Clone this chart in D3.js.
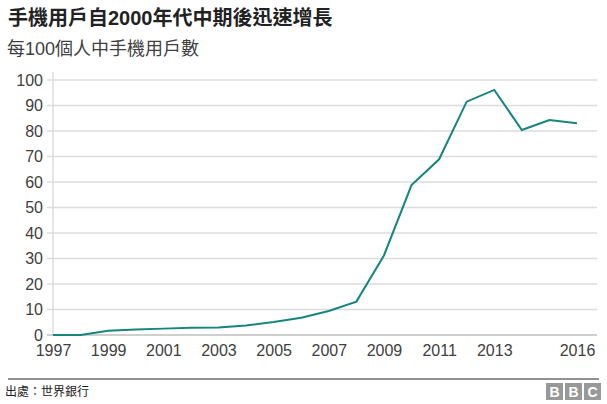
<!DOCTYPE html>
<html><head><meta charset="utf-8">
<script src="https://cdn.jsdelivr.net/npm/d3@7"></script>
<style>body{margin:0;background:#fff;font-family:"Liberation Sans",Arial,"Noto Sans CJK TC",sans-serif;}</style>
</head><body><svg id="c" width="607" height="404"></svg>
<script>
const years = [1997,1998,1999,2000,2001,2002,2003,2004,2005,2006,2007,2008,2009,2010,2011,2012,2013,2014,2015,2016];
const values = [0,0,1.7,2.2,2.5,2.8,2.9,3.7,5.1,6.8,9.4,13.1,31.2,58.8,68.9,91.5,96.1,80.4,84.3,83.0];
const yTicks = [0,10,20,30,40,50,60,70,80,90,100];
const xTicks = [1997,1999,2001,2003,2005,2007,2009,2011,2013,2016];
const title = "手機用戶自2000年代中期後迅速增長";
const subtitle = "每100個人中手機用戶數";
const source = "出處：世界銀行";

const svg = d3.select("#c");
const cjk = '"Liberation Sans",Arial,"Noto Sans CJK TC",sans-serif';
const x = d3.scaleLinear().domain([1997,2016]).range([53,577]);
const y = d3.scaleLinear().domain([0,100]).range([335,80]);

svg.append("text").attr("x",8).attr("y",25).attr("font-size",20).attr("font-weight","bold").attr("fill","#222").attr("font-family",cjk).text(title);
svg.append("text").attr("x",7).attr("y",55).attr("font-size",18).attr("fill","#404040").attr("font-family",cjk).text(subtitle);

// grid
svg.append("g").selectAll("line").data(yTicks.filter(d=>d>0)).join("line")
  .attr("x1",47).attr("x2",597).attr("y1",d=>y(d)).attr("y2",d=>y(d))
  .attr("stroke","#dcdcdc").attr("stroke-width",1.5);
// y axis line
svg.append("line").attr("x1",53).attr("x2",53).attr("y1",y(100)-8).attr("y2",y(0)).attr("stroke","#dcdcdc").attr("stroke-width",1.5);
// zero baseline
svg.append("line").attr("x1",47).attr("x2",597).attr("y1",y(0)).attr("y2",y(0)).attr("stroke","#a0a0a0").attr("stroke-width",1.2);

const yAxis = svg.append("g").attr("transform","translate(47,0)")
  .call(d3.axisLeft(y).tickValues(yTicks).tickSize(0).tickPadding(4));
yAxis.select(".domain").remove();
yAxis.selectAll("text").attr("font-size",16).attr("fill","#404040").attr("font-family","Liberation Sans,Arial,sans-serif");

const xAxis = svg.append("g").attr("transform","translate(0,"+y(0)+")")
  .call(d3.axisBottom(x).tickValues(xTicks).tickFormat(d3.format("d")).tickSize(0).tickPadding(9));
xAxis.select(".domain").remove();
xAxis.selectAll("text").attr("font-size",16).attr("fill","#404040").attr("font-family","Liberation Sans,Arial,sans-serif").attr("dy","0.75em");

const line = d3.line().x((d,i)=>x(years[i])).y(d=>y(d));
svg.append("path").datum(values).attr("d",line).attr("fill","none").attr("stroke","#16857f").attr("stroke-width",2);

// footer
svg.append("line").attr("x1",8).attr("x2",599).attr("y1",379).attr("y2",379).attr("stroke","#222").attr("stroke-width",1);
svg.append("text").attr("x",5).attr("y",396).attr("font-size",12).attr("fill","#222").attr("font-family",cjk).text(source);
const bbc = ["B","B","C"];
const lg = svg.append("g");
bbc.forEach((ch,i)=>{
  const bx = 546 + i*19;
  lg.append("rect").attr("x",bx).attr("y",383).attr("width",17).attr("height",17).attr("fill","#999");
  lg.append("text").attr("x",bx+8.5).attr("y",397).attr("text-anchor","middle").attr("font-size",14).attr("font-weight","bold").attr("fill","#fff").attr("font-family","Liberation Sans,Arial,sans-serif").text(ch);
});
</script></body></html>
